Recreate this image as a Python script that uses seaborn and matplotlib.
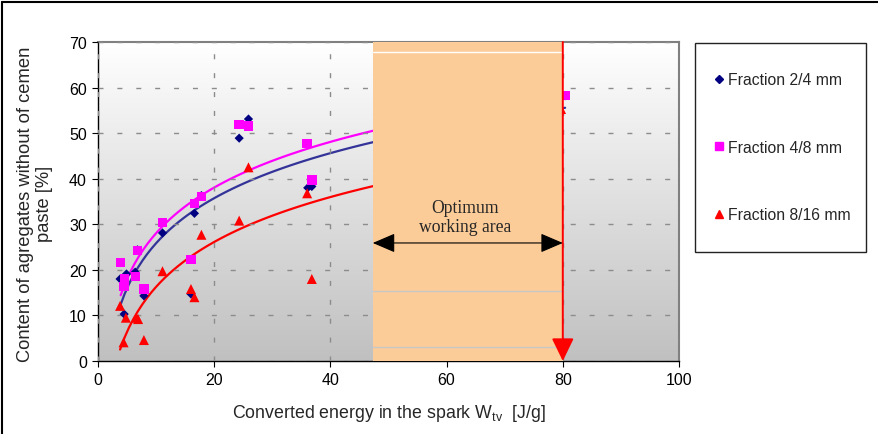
import matplotlib
matplotlib.use('Agg')
import matplotlib.pyplot as plt
import seaborn as sns
import numpy as np
from matplotlib.patches import Rectangle, FancyArrowPatch
from matplotlib.lines import Line2D
from matplotlib.colors import LinearSegmentedColormap

# ---------------- data ----------------
x_24 = [3.8, 4.9, 4.5, 6.4, 6.8, 7.9, 11.1, 16.0, 16.6, 17.8, 24.3, 25.9, 36.1, 36.8, 80.4]
y_24 = [18.0, 19.1, 10.3, 19.5, 24.4, 14.3, 28.1, 14.7, 32.4, 36.3, 48.9, 53.1, 38.0, 38.3, 58.2]

x_48 = [3.9, 4.6, 4.5, 6.5, 6.8, 7.9, 11.1, 16.0, 16.6, 17.8, 24.3, 25.9, 36.0, 36.8, 80.4]
y_48 = [21.6, 18.1, 16.4, 18.5, 24.3, 15.8, 30.4, 22.3, 34.5, 36.1, 51.9, 51.6, 47.7, 39.7, 58.2]

x_816 = [3.8, 4.8, 4.4, 6.6, 6.9, 7.9, 11.1, 16.0, 16.6, 17.8, 24.3, 25.9, 36.0, 36.8, 79.7]
y_816 = [12.1, 9.5, 4.1, 9.5, 9.2, 4.6, 19.7, 15.8, 14.0, 27.7, 30.8, 42.5, 36.8, 18.0, 55.3]

series_labels = ["Fraction 2/4 mm", "Fraction 4/8 mm", "Fraction 8/16 mm"]
x_ticks = [0, 20, 40, 60, 80, 100]
y_ticks = [0, 10, 20, 30, 40, 50, 60, 70]
optimum_range = [47.3, 80.0]
arrow_level = 25.9
annotation_text = "Optimum\nworking area"
x_label = "Converted energy in the spark W$_{\\mathrm{tv}}$  [J/g]"
y_label = "Content of agregates without of cemen\npaste [%]"

# ---------------- style ----------------
sns.set_style("white")
plt.rcParams['font.family'] = ['Liberation Sans', 'DejaVu Sans']
plt.rcParams['mathtext.fontset'] = 'custom'
plt.rcParams['mathtext.rm'] = 'Liberation Sans'
plt.rcParams['mathtext.it'] = 'Liberation Sans:italic'

W, H = 879, 435
fig = plt.figure(figsize=(W / 100, H / 100), dpi=100)
fig.patch.set_facecolor('white')
ax = fig.add_axes([98 / W, 1 - 362 / H, 581 / W, 319 / H])

# gradient plot-area background
cmap = LinearSegmentedColormap.from_list('bg', ['#C0C0C0', '#FFFFFF'])
ax.imshow(np.linspace(1, 0, 256).reshape(-1, 1), extent=[0, 100, 0, 70],
          aspect='auto', cmap=cmap, vmin=0, vmax=1, zorder=0, origin='upper')

colors = ['#000080', '#FF00FF', '#FF0000']
line_colors = ['#333399', '#FF00FF', '#FF0000']
markers = ['D', 's', '^']
sizes = [22, 46, 52]
xs = [x_24, x_48, x_816]
ys = [y_24, y_48, y_816]

for xv, yv, c, lc, m, s in zip(xs, ys, colors, line_colors, markers, sizes):
    sns.scatterplot(x=xv, y=yv, marker=m, color=c, s=s, edgecolor='none',
                    ax=ax, zorder=3, legend=False)
    sns.regplot(x=xv, y=yv, logx=True, ci=None, scatter=False, color=lc,
                line_kws=dict(lw=1.6, zorder=2.5), ax=ax, truncate=True)

ax.set_xlim(0, 100)
ax.set_ylim(0, 70)
ax.set_xticks(x_ticks)
ax.set_yticks(y_ticks)
ax.set_xlabel('')
ax.set_ylabel('')
ax.grid(True, color='#8C8C8C', linestyle=(0, (3.6, 10)), linewidth=1.0, zorder=1)
ax.set_axisbelow(False)
for gl in ax.get_xgridlines() + ax.get_ygridlines():
    gl.set_zorder(1)

for side in ['left', 'bottom']:
    ax.spines[side].set_color('black')
    ax.spines[side].set_linewidth(1.0)
for side in ['top', 'right']:
    ax.spines[side].set_color('#808080')
    ax.spines[side].set_linewidth(1.5)
ax.tick_params(direction='out', length=4, width=0.8, colors='black',
               labelsize=11.5, pad=4, bottom=True, left=True, top=False, right=False)

# optimum working area
x0, x1 = optimum_range
ax.add_patch(Rectangle((x0, 0), x1 - x0, 70, facecolor='#FBCB98', edgecolor='none', zorder=5))
ax.plot([x0, x1], [67.8, 67.8], color='white', lw=1.0, zorder=5.5)
ax.plot([x0, x1], [15.4, 15.4], color='#C8C8C8', lw=1.0, zorder=5.5)
ax.plot([x0, x1], [3.1, 3.1], color='#C8C8C8', lw=1.0, zorder=5.5)

ax.add_patch(FancyArrowPatch((x1, 70), (x1, 0),
                             arrowstyle='-|>,head_length=1.4,head_width=0.68',
                             mutation_scale=10, color='#FF0000', lw=1.4,
                             shrinkA=0, shrinkB=0, zorder=7, clip_on=False))
ax.add_patch(FancyArrowPatch((x0, arrow_level), (x1, arrow_level),
                             arrowstyle='<|-|>,head_length=1.4,head_width=0.6',
                             mutation_scale=10, color='black', lw=0.8,
                             shrinkA=0, shrinkB=0, zorder=8))
ax.text(63.2, 31.6, annotation_text, family=['Liberation Serif', 'DejaVu Serif'],
        fontsize=12.7, ha='center', va='center', linespacing=1.15, zorder=8)

# axis labels
ax.set_xlabel(x_label, fontsize=12.8, labelpad=11)
fig.text(35 / W, 1 - 204 / H, y_label, rotation=90, ha='center', va='center',
         fontsize=13.2, multialignment='center', linespacing=1.15)

# legend box + legend
fig.add_artist(Rectangle((695 / W, 1 - 253 / H), 171 / W, 209 / H,
                         transform=fig.transFigure, fill=False,
                         edgecolor='#222222', lw=1.0))
handles = [Line2D([], [], marker='D', color=colors[0], ls='none', markersize=4.5),
           Line2D([], [], marker='s', color=colors[1], ls='none', markersize=5.5),
           Line2D([], [], marker='^', color=colors[2], ls='none', markersize=6)]
fig.legend(handles, series_labels, loc='upper left',
           bbox_to_anchor=(712.7 / W, 1 - 73 / H), frameon=False,
           borderpad=0, borderaxespad=0, handlelength=0.8, handletextpad=0.18,
           labelspacing=3.36, fontsize=11.3)

# outer chart frame
fig.add_artist(Line2D([2 / W, 2 / W], [0, 1 - 3 / H], transform=fig.transFigure,
                      color='black', lw=1.5))
fig.add_artist(Line2D([2 / W, 1], [1 - 3 / H, 1 - 3 / H], transform=fig.transFigure,
                      color='black', lw=1.5))

fig.savefig('out.png', dpi=100)
